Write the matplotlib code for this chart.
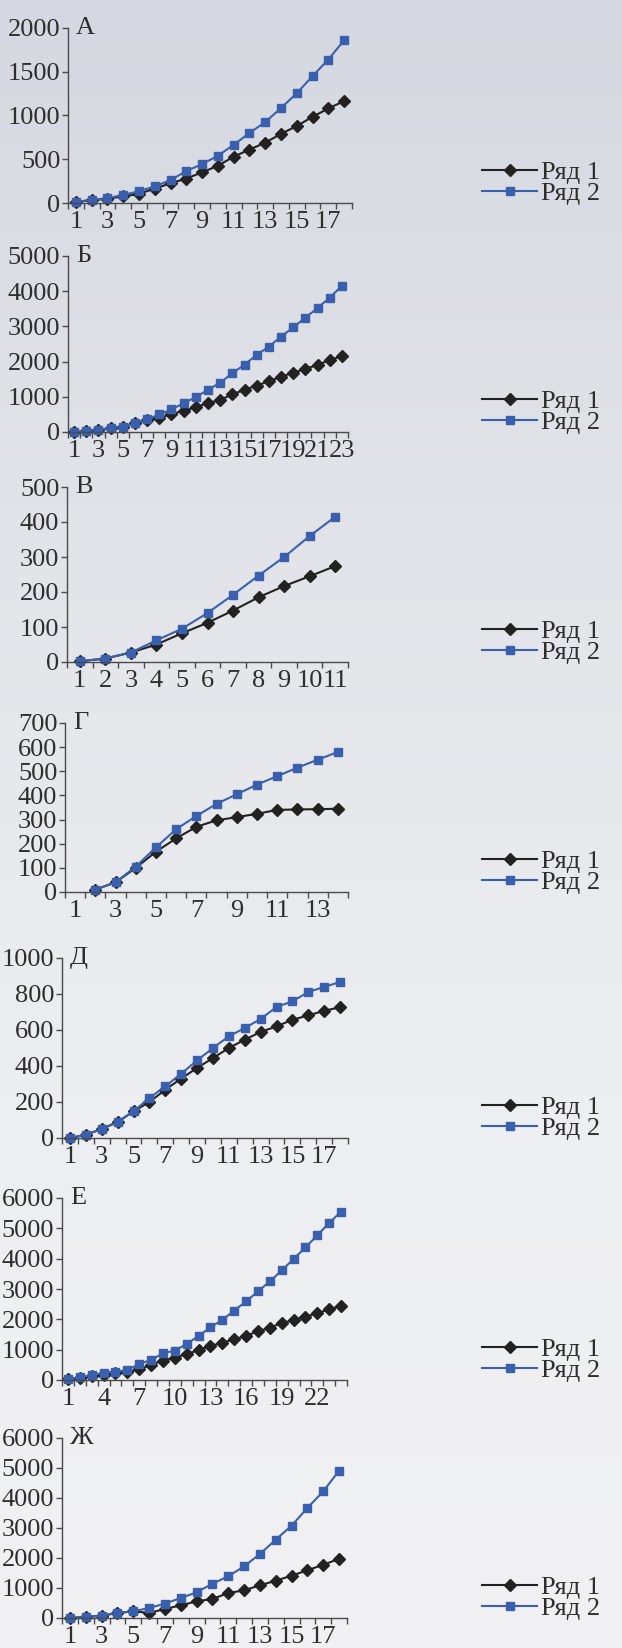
import numpy as np
import matplotlib
matplotlib.use('Agg')
import matplotlib.pyplot as plt
from matplotlib.colors import LinearSegmentedColormap

plt.rcParams['font.family'] = ['Liberation Serif', 'DejaVu Serif']

nan = np.nan

series_names = ['Ряд 1', 'Ряд 2']
panel_letters = ['А', 'Б', 'В', 'Г', 'Д', 'Е', 'Ж']

# panel А
a_row1 = [15, 30, 50, 75, 105, 165, 225, 280, 350, 425, 530, 610, 690, 790, 880, 985, 1080, 1165]
a_row2 = [15, 35, 55, 92, 135, 190, 262, 365, 445, 540, 665, 800, 925, 1085, 1255, 1450, 1640, 1860]

# panel Б
b_row1 = [0, 20, 65, 110, 150, 260, 340, 390, 520, 590, 710, 820, 910, 1070, 1200, 1320, 1440,
          1575, 1680, 1800, 1900, 2050, 2150]
b_row2 = [0, 20, 65, 110, 140, 255, 360, 500, 640, 820, 990, 1200, 1400, 1670, 1915, 2190, 2425,
          2710, 2970, 3250, 3520, 3820, 4150]

# panel В
c_row1 = [2, 10, 27, 50, 82, 112, 147, 185, 217, 245, 274]
c_row2 = [2, 10, 27, 62, 95, 140, 192, 247, 300, 360, 415]

# panel Г (first category empty)
d_row1 = [nan, 10, 40, 100, 167, 222, 270, 297, 310, 324, 340, 342, 343, 345]
d_row2 = [nan, 10, 40, 105, 185, 260, 315, 365, 405, 445, 480, 515, 548, 580]

# panel Д
e_row1 = [0, 18, 50, 89, 148, 200, 268, 330, 389, 444, 500, 546, 589, 620, 657, 681, 707, 726]
e_row2 = [0, 18, 50, 89, 148, 222, 287, 357, 431, 500, 565, 611, 661, 728, 759, 811, 839, 867]

# panel Е
f_row1 = [20, 60, 120, 180, 220, 270, 350, 500, 640, 740, 850, 990, 1120, 1230, 1340, 1460, 1600,
          1730, 1870, 1980, 2090, 2200, 2330, 2440]
f_row2 = [20, 90, 165, 240, 275, 330, 530, 660, 880, 970, 1190, 1450, 1740, 1980, 2290, 2590, 2920,
          3250, 3610, 3990, 4370, 4770, 5180, 5550]

# panel Ж
g_row1 = [0, 33, 78, 167, 222, 170, 300, 422, 556, 633, 833, 922, 1089, 1244, 1411, 1589, 1778, 1967]
g_row2 = [0, 33, 78, 167, 222, 333, 478, 667, 856, 1144, 1389, 1722, 2133, 2611, 3078, 3667, 4222, 4911]

rows1 = [a_row1, b_row1, c_row1, d_row1, e_row1, f_row1, g_row1]
rows2 = [a_row2, b_row2, c_row2, d_row2, e_row2, f_row2, g_row2]
y_max = [2000, 5000, 500, 700, 1000, 6000, 6000]
y_step = [500, 1000, 100, 100, 200, 1000, 1000]
label_every = [2, 2, 1, 2, 2, 3, 2]

W, H = 622, 1648
BLACK = '#222222'
BLUE = '#3a60ad'
TEXT = '#2e2e2e'
AXIS = '#4a4a4a'

# plot boxes in pixels: left, top, right, bottom (bottom = zero line)
boxes = [
    (68, 28, 352, 203),
    (68, 256, 348, 432),
    (67, 487, 348, 662),
    (65, 723, 348, 892),
    (62, 958, 348, 1138),
    (62, 1198, 347, 1380),
    (62, 1438, 347, 1618),
]


def fig_rect(left, top, right, bottom):
    return [left / W, 1 - bottom / H, (right - left) / W, (bottom - top) / H]


fig = plt.figure(figsize=(W / 100, H / 100), dpi=100)

# paper background, greyer at the top of the page
bg = fig.add_axes([0, 0, 1, 1], zorder=-10)
paper = LinearSegmentedColormap.from_list('paper', ['#d5d8e0', '#e2e4e9', '#edeef1', '#f1f1f3'])
bg.imshow(np.linspace(0, 1, 256).reshape(-1, 1), aspect='auto', cmap=paper, extent=[0, 1, 0, 1])
bg.axis('off')

for i, (row1, row2) in enumerate(zip(rows1, rows2)):
    left, top, right, bottom = boxes[i]
    ax = fig.add_axes(fig_rect(left, top, right, bottom))
    ax.set_facecolor('none')

    n = len(row1)
    x = np.arange(1, n + 1)
    ax.plot(x, row1, color=BLACK, marker='D', ms=6.5, lw=1.5, clip_on=False, label=series_names[0])
    ax.plot(x, row2, color=BLUE, marker='s', ms=6, lw=1.5, clip_on=False, label=series_names[1])

    ax.set_xlim(0.5, n + 0.5)
    ax.set_ylim(0, y_max[i])
    ax.set_yticks(np.arange(0, y_max[i] + 1, y_step[i]))
    ax.set_xticks(x[::label_every[i]])
    ax.set_xticklabels([str(v) for v in x[::label_every[i]]])
    ax.set_xticks(np.arange(0.5, n + 1, 1), minor=True)

    for side in ['top', 'right']:
        ax.spines[side].set_visible(False)
    for side in ['left', 'bottom']:
        ax.spines[side].set_color(AXIS)
        ax.spines[side].set_linewidth(1.0)

    ax.tick_params(axis='x', which='major', length=0, pad=6, labelsize=19, labelcolor=TEXT)
    ax.tick_params(axis='x', which='minor', length=4.5, width=1.0, color=AXIS, direction='out')
    ax.tick_params(axis='y', length=4, width=1.0, color=AXIS, pad=1.5, labelsize=19, labelcolor=TEXT)

    # panel letter next to the top of the value axis
    fig.text((left + 8) / W, 1 - top / H, panel_letters[i], ha='left', va='center',
             fontsize=19, color=TEXT)

    # legend to the right of the plot
    ax.legend(loc='center left', bbox_to_anchor=(482 / W, 1 - (bottom - 20) / H),
              bbox_transform=fig.transFigure, frameon=False, fontsize=19,
              borderpad=0, borderaxespad=0, handlelength=2.1, handletextpad=0.15,
              labelspacing=-0.1, labelcolor=TEXT)

fig.savefig('out.png', dpi=100)
